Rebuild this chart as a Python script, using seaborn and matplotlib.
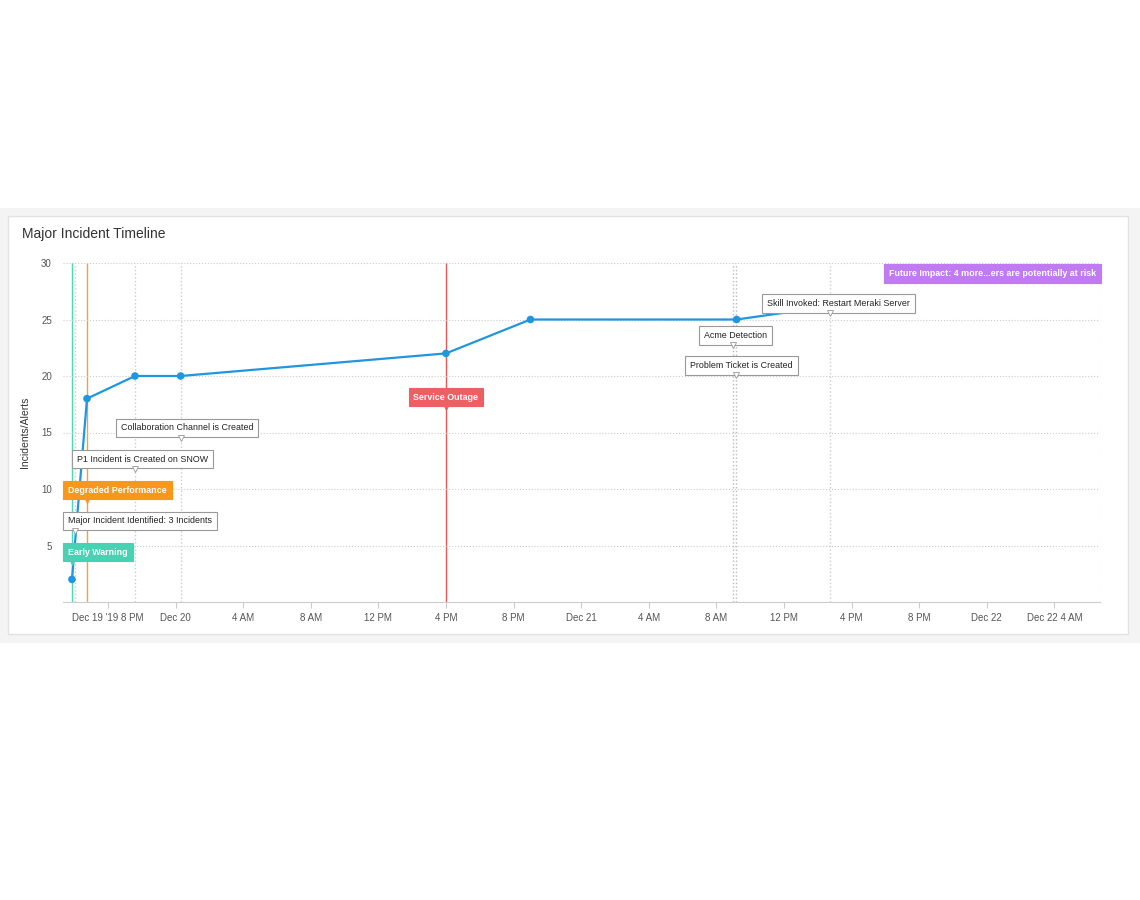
import numpy as np
import pandas as pd
import matplotlib
matplotlib.use('Agg')
import matplotlib.pyplot as plt
from matplotlib.patches import Rectangle
import seaborn as sns

plt.rcParams['font.family'] = 'Liberation Sans'

# hours relative to Dec 19 '19 8 PM
hours  = [-2.13, -1.24, 1.6, 4.3, 20.0, 25.0, 37.2]
counts = [2, 18, 20, 20, 22, 25, 25]
line_end_h, line_end_v = 40.5, 25.7

tick_hours  = [0, 4, 8, 12, 16, 20, 24, 28, 32, 36, 40, 44, 48, 52, 56]
tick_labels = ["Dec 19 '19 8 PM", "Dec 20", "4 AM", "8 AM", "12 PM", "4 PM", "8 PM",
               "Dec 21", "4 AM", "8 AM", "12 PM", "4 PM", "8 PM", "Dec 22", "Dec 22 4 AM"]

# event markers: (hour, colour, style)
event_h     = [-2.13, -1.95, -1.24, 1.6, 4.32, 20.0, 36.98, 37.16, 42.72]
event_color = ['#4dd9b9', '#cccccc', '#f5a037', '#cccccc', '#cccccc', '#e25b5b', '#bbbbbb', '#bbbbbb', '#cccccc']
event_ls    = ['-', ':', '-', ':', ':', '-', ':', ':', ':']

# callouts
note_text = ['Early Warning', 'Major Incident Identified: 3 Incidents', 'Degraded Performance',
             'P1 Incident is Created on SNOW', 'Collaboration Channel is Created', 'Service Outage',
             'Problem Ticket is Created', 'Acme Detection', 'Skill Invoked: Restart Meraki Server',
             'Future Impact: 4 more...ers are potentially at risk']
note_x    = [-2.36, -2.36, -2.36, -1.83, 0.77, 20.0, 34.44, 35.27, 39.0, 58.45]
note_ha   = ['left', 'left', 'left', 'left', 'left', 'center', 'left', 'left', 'left', 'right']
note_y    = [4.42, 7.17, 9.91, 12.65, 15.4, 18.14, 20.9, 23.6, 26.4, 29.1]
note_ptr  = [-2.13, -1.95, -1.24, 1.6, 4.32, 20.0, 37.16, 36.98, 42.72, None]
note_fill = ['#45d3b4', 'white', '#f7981d', 'white', 'white', '#ee5f63', 'white', 'white', 'white', '#c07af2']

fig = plt.figure(figsize=(11.4, 9), dpi=100)
fig.patch.set_facecolor('white')
fig.add_artist(Rectangle((0, 1 - 643/900), 1, (643-208)/900, transform=fig.transFigure,
                         facecolor='#f4f4f4', edgecolor='none', zorder=-3))
fig.add_artist(Rectangle((8/1140, 1 - 634/900), 1120/1140, (634-216)/900, transform=fig.transFigure,
                         facecolor='white', edgecolor='#e2e2e2', lw=1, zorder=-2))
fig.text(22/1140, 1 - 234/900, 'Major Incident Timeline', fontsize=10, color='#333333', va='center')

ax = fig.add_axes([63/1140, 1 - 602/900, 1037/1140, 339/900])
ax.set_facecolor('none')

for h, c, ls in zip(event_h, event_color, event_ls):
    ax.axvline(h, color=c, ls=ls, lw=1, zorder=1)

df = pd.DataFrame({'h': hours + [line_end_h], 'v': counts + [line_end_v]})
sns.lineplot(data=df, x='h', y='v', ax=ax, color='#1f96e0', lw=1.6, zorder=3)
sns.scatterplot(x=hours, y=counts, ax=ax, color='#1f96e0', s=30, edgecolor='none', zorder=4)

for t, x, ha, y, p, f in zip(note_text, note_x, note_ha, note_y, note_ptr, note_fill):
    dark = f != 'white'
    ax.text(x, y, t, ha=ha, va='center', fontsize=6.4, zorder=6,
            color='white' if dark else '#222222', fontweight='bold' if dark else 'normal',
            bbox=dict(boxstyle='square,pad=0.55', facecolor=f,
                      edgecolor='#999999' if not dark else f, lw=0.8))
    if p is not None:
        ax.plot([p], [y - 0.85], marker='v', ms=5, color=f,
                mec='#999999' if not dark else f, mew=0.6, zorder=7)

ax.set_xlim(-2.66, 58.7)
ax.set_ylim(0, 30)
ax.set_yticks([5, 10, 15, 20, 25, 30])
ax.set_xticks(tick_hours)
ax.set_xticklabels(tick_labels)
ax.grid(axis='y', ls=':', color='#cccccc', lw=0.8)
ax.axvline(58.7, ls=':', color='#cccccc', lw=0.8)
ax.tick_params(axis='both', labelsize=7, colors='#555555', length=0, pad=8)
ax.tick_params(axis='x', length=4, color='#cccccc', pad=4)
for s in ['top', 'right', 'left']:
    ax.spines[s].set_visible(False)
ax.spines['bottom'].set_color('#cccccc')
ax.set_xlabel('')
ax.set_ylabel('Incidents/Alerts', fontsize=7.5, color='#333333', labelpad=8)

fig.savefig('out.png', dpi=100)
